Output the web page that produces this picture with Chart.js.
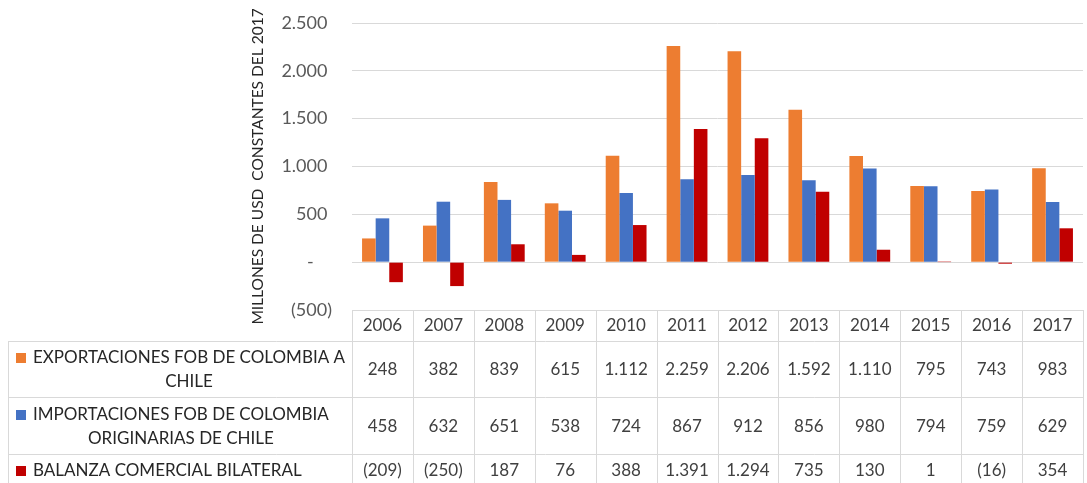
<!DOCTYPE html>
<html>
<head>
<meta charset="utf-8">
<script src="https://cdn.jsdelivr.net/npm/chart.js@4.4.1/dist/chart.umd.min.js"></script>
<style>
  html, body { margin: 0; padding: 0; background: #ffffff; }
  #wrap { width: 1087px; height: 483px; }
</style>
</head>
<body>
<div id="wrap"><canvas id="c" width="1087" height="483"></canvas></div>
<script>
const years = ['2006','2007','2008','2009','2010','2011','2012','2013','2014','2015','2016','2017'];
const exportsFob = [248, 382, 839, 615, 1112, 2259, 2206, 1592, 1110, 795, 743, 983];
const importsFob = [458, 632, 651, 538, 724, 867, 912, 856, 980, 794, 759, 629];
const balance = [-209, -250, 187, 76, 388, 1391, 1294, 735, 130, 1, -16, 354];
const seriesNames = [
  ['EXPORTACIONES FOB DE COLOMBIA A', 'CHILE'],
  ['IMPORTACIONES FOB DE COLOMBIA', 'ORIGINARIAS DE CHILE'],
  ['BALANZA COMERCIAL BILATERAL']
];
const axisTitle = 'MILLONES DE USD  CONSTANTES DEL 2017';

const colors = ['#ED7D31', '#4472C4', '#C00000'];
const FONT = 'Lato, "Open Sans", sans-serif';
const gridColor = '#D9D9D9';

function fmtNum(v) {
  const s = Math.abs(v).toString().replace(/\B(?=(\d{3})+(?!\d))/g, '.');
  return v < 0 ? '(' + s + ')' : s;
}
function fmtTick(v) {
  if (v === 0) return '-    ';
  if (v < 0) return fmtNum(v);
  return fmtNum(v) + ' ';
}

const tablePlugin = {
  id: 'dataTable',
  afterDraw(chart) {
    const ctx = chart.ctx;
    const xs = chart.scales.x;
    const ca = chart.chartArea;
    const n = years.length;
    const colW = (ca.right - ca.left) / n;
    const top = ca.bottom;
    const rowEdges = [top, top + 31, top + 87, top + 144, top + 176];
    const tableLeft = 8;
    const data = [exportsFob, importsFob, balance];
    ctx.save();
    ctx.strokeStyle = gridColor;
    ctx.lineWidth = 1;
    ctx.beginPath();
    ctx.moveTo(ca.left, rowEdges[0] + 0.5); ctx.lineTo(ca.right, rowEdges[0] + 0.5);
    for (let r = 1; r < rowEdges.length; r++) {
      ctx.moveTo(tableLeft, rowEdges[r] + 0.5); ctx.lineTo(ca.right, rowEdges[r] + 0.5);
    }
    ctx.moveTo(tableLeft + 0.5, rowEdges[1]); ctx.lineTo(tableLeft + 0.5, rowEdges[4]);
    for (let i = 0; i <= n; i++) {
      const x = Math.round(ca.left + i * colW) + 0.5;
      ctx.moveTo(x, rowEdges[0]); ctx.lineTo(x, rowEdges[4]);
    }
    ctx.stroke();

    ctx.fillStyle = '#404040';
    ctx.font = '17px ' + FONT;
    ctx.textAlign = 'center';
    ctx.textBaseline = 'middle';
    for (let i = 0; i < n; i++) {
      const cx = xs.getPixelForValue(i);
      ctx.fillText(years[i], cx, (rowEdges[0] + rowEdges[1]) / 2);
      for (let r = 0; r < 3; r++) {
        ctx.fillText(fmtNum(data[r][i]), cx, (rowEdges[r + 1] + rowEdges[r + 2]) / 2 + 1);
      }
    }
    for (let r = 0; r < 3; r++) {
      const lines = seriesNames[r];
      const lh = 24;
      const cy = (rowEdges[r + 1] + rowEdges[r + 2]) / 2 + 1;
      const y0 = cy - (lines.length - 1) * lh / 2;
      const textLeft = 33;
      let maxW = 0;
      lines.forEach(l => { maxW = Math.max(maxW, ctx.measureText(l).width); });
      ctx.fillStyle = colors[r];
      ctx.fillRect(16, Math.round(y0 - 5), 10, 10);
      ctx.fillStyle = '#262626';
      ctx.textAlign = 'center';
      lines.forEach((l, k) => {
        ctx.fillText(l, textLeft + maxW / 2, y0 + k * lh);
      });
    }
    ctx.restore();
  }
};

new Chart(document.getElementById('c'), {
  type: 'bar',
  data: {
    labels: years,
    datasets: [
      { label: seriesNames[0].join(' '), data: exportsFob, backgroundColor: colors[0] },
      { label: seriesNames[1].join(' '), data: importsFob, backgroundColor: colors[1] },
      { label: seriesNames[2].join(' '), data: balance, backgroundColor: colors[2] }
    ]
  },
  options: {
    responsive: false,
    animation: false,
    devicePixelRatio: 1,
    layout: { autoPadding: false, padding: { left: 245, right: 4, top: 23, bottom: 173 } },
    datasets: { bar: { categoryPercentage: 0.67, barPercentage: 1.0 } },
    plugins: { legend: { display: false }, tooltip: { enabled: false } },
    scales: {
      x: { display: false },
      y: {
        min: -500, max: 2500,
        afterFit(scale) { scale.width = 107; scale.paddingTop = 0; scale.paddingBottom = 0; },
        border: { display: false },
        grid: { color: gridColor, drawTicks: false, lineWidth: 1 },
        ticks: {
          stepSize: 500, padding: 20, color: '#595959',
          font: { family: FONT, size: 18 },
          callback: (v) => fmtTick(v)
        },
        title: {
          display: true, text: axisTitle, color: '#262626',
          font: { family: FONT, size: 15.5 }, padding: { top: 4, bottom: 4 }
        }
      }
    }
  },
  plugins: [tablePlugin]
});
</script>
</body>
</html>
